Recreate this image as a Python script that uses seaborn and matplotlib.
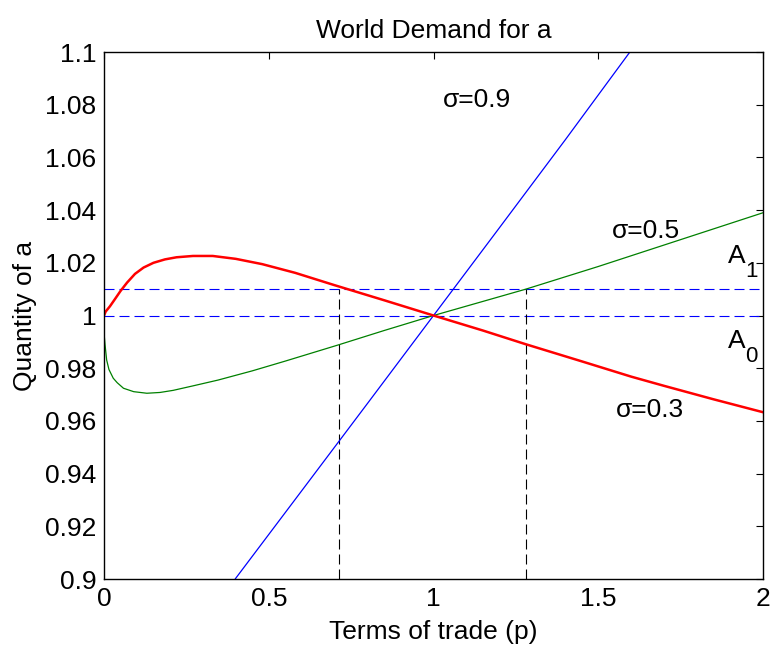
import matplotlib
matplotlib.use("Agg")
import matplotlib.pyplot as plt
import seaborn as sns
import pandas as pd

# Data
red_x = [0, 0.005, 0.018, 0.033, 0.05, 0.07, 0.094, 0.12, 0.15, 0.185, 0.22, 0.27, 0.33, 0.4, 0.48,
         0.58, 0.7, 0.85, 1.0, 1.15, 1.28, 1.45, 1.6, 1.7, 1.85, 2.0]
red_y = [1.0, 1.0015, 1.0035, 1.0062, 1.0093, 1.0125, 1.0158, 1.0182, 1.0200, 1.0213, 1.0221, 1.0226,
         1.0226, 1.0215, 1.0195, 1.0162, 1.0115, 1.0058, 1.0, 0.9943, 0.9891, 0.9826, 0.9768, 0.9733,
         0.9682, 0.9633]
green_x = [0, 0.003, 0.008, 0.015, 0.028, 0.04, 0.059, 0.09, 0.13, 0.17, 0.21, 0.27, 0.346, 0.45, 0.55,
           0.71, 0.85, 1.0, 1.28, 1.5, 1.75, 2.0]
green_y = [0.9934, 0.989, 0.9831, 0.9795, 0.9762, 0.9745, 0.9724, 0.9711, 0.9705, 0.9708, 0.9716, 0.9733,
           0.9755, 0.979, 0.9827, 0.9888, 0.9943, 1.0, 1.010, 1.0186, 1.0288, 1.039]
blue_x = [0.398, 0.6, 0.8, 1.0, 1.2, 1.4, 1.596]
blue_y = [0.9, 0.9335, 0.9667, 1.0, 1.0333, 1.0667, 1.1]
hlines_y = [1.0, 1.01]
vlines_x = [0.713, 1.28]
xticks = [0, 0.5, 1, 1.5, 2]
yticks = [0.9, 0.92, 0.94, 0.96, 0.98, 1.0, 1.02, 1.04, 1.06, 1.08, 1.1]
ytick_labels = ["0.9", "0.92", "0.94", "0.96", "0.98", "1", "1.02", "1.04", "1.06", "1.08", "1.1"]
xtick_labels = ["0", "0.5", "1", "1.5", "2"]

sns.set_style("white")
plt.rcParams['font.family'] = ['Liberation Sans', 'DejaVu Sans']
for k in ['text.color', 'axes.labelcolor', 'xtick.color', 'ytick.color']:
    plt.rcParams[k] = 'black'

FS = 19

fig = plt.figure(figsize=(7.74, 6.55), dpi=100)
ax = fig.add_axes([0.1344, 0.116, 0.8514, 0.8046])

df_r = pd.DataFrame({"x": red_x, "y": red_y})
df_g = pd.DataFrame({"x": green_x, "y": green_y})
df_b = pd.DataFrame({"x": blue_x, "y": blue_y})

dash = (0, (9, 4.5))
for yv in hlines_y:
    ax.axhline(yv, color="#0000ff", lw=0.8, ls=dash)
for xv in vlines_x:
    ax.plot([xv, xv], [0.9, 1.01], color="#000000", lw=0.8, ls=dash)

sns.lineplot(data=df_g, x="x", y="y", ax=ax, color="#008000", lw=0.9, sort=False)
sns.lineplot(data=df_b, x="x", y="y", ax=ax, color="#0000ff", lw=0.9, sort=False)
sns.lineplot(data=df_r, x="x", y="y", ax=ax, color="#ff0000", lw=1.8, sort=False)

ax.set_xlim(0, 2)
ax.set_ylim(0.9, 1.1)
ax.set_xticks(xticks)
ax.set_xticklabels(xtick_labels)
ax.set_yticks(yticks)
ax.set_yticklabels(ytick_labels)
ax.tick_params(direction="in", length=5, width=0.8, top=True, right=True,
               labelsize=FS, colors="black", pad=5.5)
for s in ax.spines.values():
    s.set_visible(True)
    s.set_color("black")
    s.set_linewidth(1.0)

ax.set_xlabel("Terms of trade (p)", fontsize=FS)
ax.set_ylabel("Quantity of a", fontsize=FS)
ax.xaxis.set_label_coords(0.5, -0.078)
ax.yaxis.set_label_coords(-0.102, 0.5)
ax.set_title("World Demand for a", fontsize=FS, pad=10)

ax.text(1.132, 1.0792, "σ=0.9", fontsize=FS, ha="center", va="baseline")
ax.text(1.645, 1.0294, "σ=0.5", fontsize=FS, ha="center", va="baseline")
ax.text(1.657, 0.9616, "σ=0.3", fontsize=FS, ha="center", va="baseline")
ax.text(1.921, 1.0199, "A", fontsize=FS, ha="center", va="baseline")
ax.text(1.964, 1.0147, "1", fontsize=16, ha="center", va="baseline")
ax.text(1.921, 0.9876, "A", fontsize=FS, ha="center", va="baseline")
ax.text(1.964, 0.9825, "0", fontsize=16, ha="center", va="baseline")

fig.savefig("out.png", dpi=100)
